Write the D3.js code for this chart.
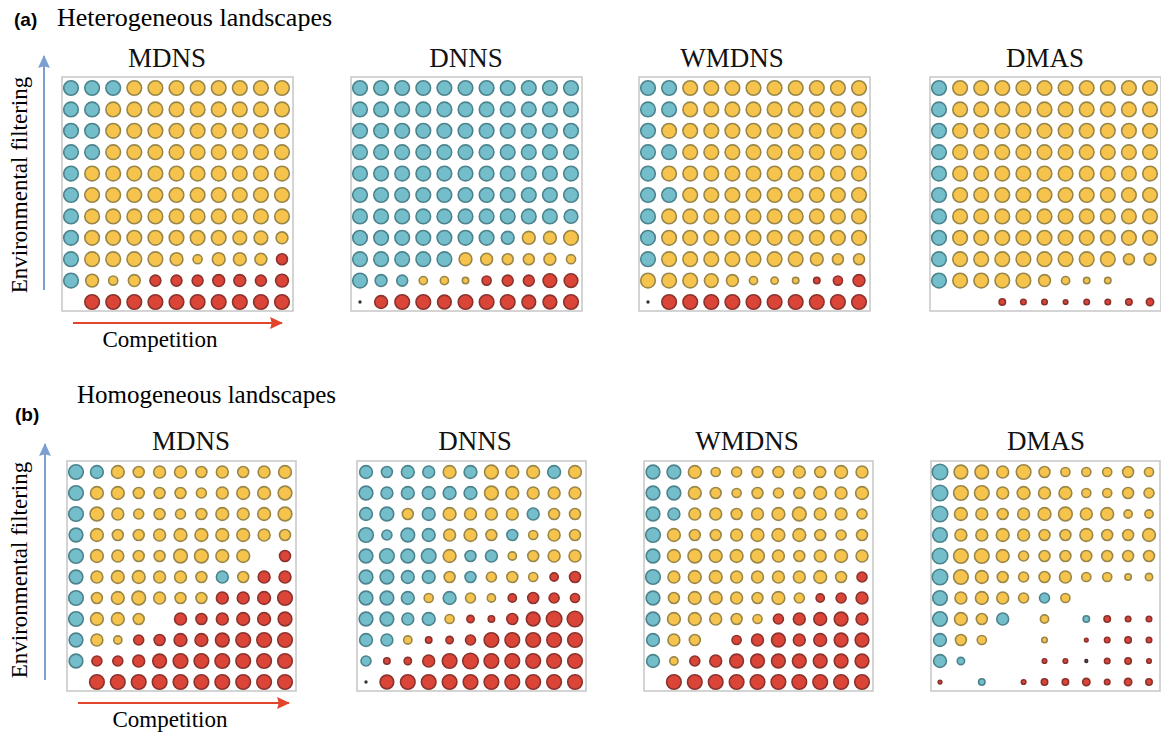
<!DOCTYPE html>
<html>
<head>
<meta charset="utf-8">
<script src="https://cdn.jsdelivr.net/npm/d3@7"></script>
<style>
  body { margin: 0; background: #fff; }
  svg { display: block; }
</style>
</head>
<body>
<script>
// each token: colour letter (B = blue, Y = yellow, R = red) + circle size, "-" = empty cell
// rows go from top (strong filtering) to bottom, columns left to right (competition)

var hetMDNS = [
  'B8 B8 B8 Y8 Y8 Y8 Y8 Y8 Y8 Y8 Y8',
  'B8 B8 Y8 Y8 Y8 Y8 Y8 Y8 Y8 Y8 Y8',
  'B8 B8 Y8 Y8 Y8 Y8 Y8 Y8 Y8 Y8 Y8',
  'B8 B8 Y8 Y8 Y8 Y8 Y8 Y8 Y8 Y8 Y8',
  'B8 Y8 Y8 Y8 Y8 Y8 Y8 Y8 Y8 Y8 Y8',
  'B8 Y8 Y8 Y8 Y8 Y8 Y8 Y8 Y8 Y8 Y8',
  'B8 Y8 Y8 Y8 Y8 Y8 Y8 Y8 Y8 Y8 Y8',
  'B8 Y8 Y8 Y8 Y8 Y8 Y8 Y8 Y7.5 Y7.5 Y6.5',
  'B8 Y8 Y8 Y8 Y8 Y7 Y5 Y7 Y7 Y6.5 R6',
  'B8 Y7 Y5 Y6.5 R6 R6 R6 R6.5 R6.5 R6 R7',
  '- R8 R8 R8 R8 R8 R8 R8 R8 R8 R8'
];
var hetDNNS = [
  'B8 B8 B8 B8 B8 B8 B8 B8 B8 B8 B8',
  'B8 B8 B8 B8 B8 B8 B8 B8 B8 B8 B8',
  'B8 B8 B8 B8 B8 B8 B8 B8 B8 B8 B8',
  'B8 B8 B8 B8 B8 B8 B8 B8 B8 B8 B8',
  'B8 B8 B8 B8 B8 B8 B8 B8 B8 B8 B8',
  'B8 B8 B8 B8 B8 B8 B8 B8 B8 B8 B8',
  'B8 B8 B8 B8 B8 B8 B8 B8 B8 B8 B7.5',
  'B8 B8 B8 B8 B8 B8 B8 B7 Y7 Y7 Y8',
  'B8 B8 B8 B8 B8 Y7 Y6.5 Y6 Y6 Y6.5 Y5',
  'B8 B6.5 B6 Y4.5 Y4.5 Y3.5 R5 R6 R6 R7.5 R7.5',
  'R1 R7 R8 R8 R7.5 R8 R8 R8 R7.5 R7.5 R8'
];
var hetWMDNS = [
  'B8 B8 Y8 Y8 Y8 Y8 Y8 Y8 Y8 Y8 Y8',
  'B8 B8 Y8 Y8 Y8 Y8 Y8 Y8 Y8 Y8 Y8',
  'B8 Y8 Y8 Y8 Y8 Y8 Y8 Y8 Y8 Y8 Y8',
  'B8 B8 Y8 Y8 Y8 Y8 Y8 Y8 Y8 Y8 Y8',
  'B8 Y8 Y8 Y8 Y8 Y8 Y8 Y8 Y8 Y8 Y8',
  'B8 B8 Y8 Y8 Y8 Y8 Y8 Y8 Y8 Y8 Y8',
  'B8 Y8 Y8 Y8 Y8 Y8 Y8 Y8 Y8 Y8 Y8',
  'B8 Y8 Y8 Y8 Y8 Y8 Y8 Y8 Y8 Y8 Y8',
  'B8 Y8 Y8 Y8 Y8 Y8 Y8 Y8 Y7 Y6 Y6',
  'Y8 Y8 Y8 Y7.5 Y6.5 Y4.5 Y4 Y3.5 R3.5 R5 R6.5',
  'R1 R8 R8 R8 R8 R8 R8 R8 R8 R8 R8'
];
var hetDMAS = [
  'B8 Y8 Y8 Y8 Y8 Y8 Y8 Y8 Y8 Y8 Y8',
  'B8 Y8 Y8 Y8 Y8 Y8 Y8 Y8 Y8 Y8 Y8',
  'B8 Y8 Y8 Y8 Y8 Y8 Y8 Y8 Y8 Y8 Y8',
  'B8 Y8 Y8 Y8 Y8 Y8 Y8 Y8 Y8 Y8 Y8',
  'B8 Y8 Y8 Y8 Y8 Y8 Y8 Y8 Y8 Y8 Y8',
  'B8 Y8 Y8 Y8 Y8 Y8 Y8 Y8 Y8 Y8 Y8',
  'B8 Y8 Y8 Y8 Y8 Y8 Y8 Y8 Y8 Y8 Y8',
  'B8 Y8 Y8 Y8 Y8 Y8 Y8 Y8 Y8 Y8 Y8',
  'B8 Y8 Y8 Y8 Y8 Y8 Y8 Y8 Y8 Y6 Y6.5',
  'B8 Y8 Y8 Y8 Y8 Y6.5 Y4.5 Y3.5 Y3.5 - -',
  '- - - R3.5 R3 R3 R2.5 R3 R3 R3.5 R4'
];

var homMDNS = [
  'B8 B7 Y7 Y6 Y6.5 Y6.5 Y6 Y6.5 Y6 Y6.5 Y7',
  'B8 Y7 Y7 Y6 Y6 Y6 Y5.5 Y6.5 Y7 Y7 Y7.5',
  'B8 Y7.5 Y6.5 Y5.5 Y6 Y5.5 Y6 Y7 Y6.5 Y7 Y7.5',
  'B7.5 Y7 Y6 Y6 Y6.5 Y7 Y7 Y7 Y7 Y6.5 Y6',
  'B8 Y7 Y6.5 Y6 Y6 Y7.5 Y7.5 Y7 Y7 - R6',
  'B7.5 Y6.5 Y7 Y7 Y6.5 Y6.5 Y6 B6.5 Y6 R6.5 R6.5',
  'B8 Y6 Y7 Y7.5 Y6.5 Y6 Y6 R6.5 R6.5 R7 R8',
  'B8 Y7 Y7 Y6 - R6.5 R6 R6.5 R7 R7 R7.5',
  'B7.5 Y6.5 Y4.5 R5.5 R6 R7 R7 R7.5 R8 R8 R8',
  'B7.5 R5.5 R5.5 R6.5 R7.5 R8 R8 R8 R8 R8 R8',
  '- R8 R8 R8 R8 R8 R8 R8 R8 R8 R8'
];
var homDNNS = [
  'B7 B6 B7 B6.5 Y7 B7 Y7.5 Y7 Y7 B7 Y7',
  'B7.5 B6.5 B7 B7 B7 B7 Y7.5 Y7 Y6.5 Y6.5 Y6.5',
  'B7 B7.5 Y6 B7 Y7 Y6.5 Y6.5 Y6.5 B6.5 Y6 Y6',
  'B8 B5.5 B7.5 B7 Y6.5 Y7 Y6 B6 Y5 Y6.5 Y6',
  'B7.5 B8 B7.5 B8 Y7 B6 B6.5 Y4.5 Y6 Y6.5 Y6.5',
  'B7.5 B7.5 B7 B7 Y6 B6 Y5.5 Y6 Y5 R4.5 R6',
  'B7.5 B7.5 B7 Y5 B7 Y5.5 Y4.5 R4.5 R6 R5.5 R5',
  'B7.5 B7.5 B6.5 B7 Y5 R4 R3.5 R6 R7.5 R8.5 R8.5',
  'B7 B6.5 Y4.5 R3.5 R4 R5.5 R8 R8 R8 R8 R8',
  'B5.5 R3.5 R4 R6.5 R8 R8.5 R8 R8 R8 R8 R8',
  'R1 R7.5 R8 R8 R8 R8 R8 R8 R8 R8 R8'
];
var homWMDNS = [
  'B7.5 B7.5 Y7 Y5 Y5.5 Y6 Y6 Y6.5 Y6 Y7 Y6.5',
  'B7.5 B7.5 Y7 Y6 Y5 Y6 Y5.5 Y6 Y7 Y6.5 Y7',
  'B7.5 B6.5 Y6.5 Y6.5 Y6 Y6.5 Y7 Y7.5 Y6.5 Y6.5 Y5.5',
  'B8 Y7 Y6 Y6 Y6.5 Y7 Y7 Y7 Y6 Y5.5 Y6',
  'B7.5 Y7 Y7.5 Y7 Y7 Y7.5 Y6.5 Y6 Y6.5 Y7 Y6.5',
  'B8 Y6.5 Y7 Y7 Y6.5 Y6.5 Y6.5 Y6.5 Y7 Y6 R5.5',
  'B7.5 Y6 Y7 Y7 Y6.5 Y6 Y7 Y5.5 R4.5 R5.5 R6.5',
  'B7.5 Y7 Y7 Y6.5 Y6 Y5 R5.5 R6.5 R7 R7.5 R6.5',
  'B7 Y6.5 Y6 - R5 R6.5 R7.5 R6.5 R7 R7.5 R7.5',
  'B7 Y4.5 R5.5 R6.5 R7.5 R7.5 R7.5 R7.5 R7.5 R7.5 R7.5',
  '- R8 R8 R8 R8 R8 R8 R8 R8 R8 R8'
];
var homDMAS = [
  'B8.5 Y7.5 Y7.5 Y6.5 Y8 Y6 Y5 Y5 Y5 Y6 Y5',
  'B8.5 Y8 Y8 Y6.5 Y7 Y6.5 Y7 Y5 Y5 Y6 Y5.5',
  'B8.5 Y7 Y6.5 Y6 Y6.5 Y7 Y7.5 Y6.5 Y7 Y4.5 Y4.5',
  'B8 Y6.5 Y6.5 Y7 Y6.5 Y6 Y6 Y7 Y6 Y6 Y7',
  'B8.5 Y8 Y8 Y7 Y5.5 Y6 Y6 Y6 Y6 Y6 Y6',
  'B8.5 Y8 Y7 Y6 Y5.5 Y6 Y6.5 Y5 Y5 Y3.5 Y4',
  'B8 Y6.5 Y7 Y6.5 Y5.5 B5.5 Y5 - - - -',
  'B8 Y7 Y6 B6.5 - Y4.5 - B3.5 R3.5 R3 R3',
  'B7 Y6 Y5 - - Y3 - R2 R3 R3.5 R3',
  'B7 B4 - - - R2.5 R2.5 R1.5 R3 R3.5 R2.5',
  'R2 - B3.5 - R2.5 R3.5 R3.5 R4 R3 R4 R3.5'
];

var panelNames = ['MDNS', 'DNNS', 'WMDNS', 'DMAS'];
var hetPanels = [hetMDNS, hetDNNS, hetWMDNS, hetDMAS];
var homPanels = [homMDNS, homDNNS, homWMDNS, homDMAS];

var fills = {B: '#74bdca', Y: '#f6c34d', R: '#da4537'};
var strokes = {B: '#4c838c', Y: '#998749', R: '#8a332e'};

var W = 1161, H = 733;
var serif = "'Liberation Serif', 'Times New Roman', serif";
var sans = "'Liberation Sans', Arial, sans-serif";

var svg = d3.select('body').append('svg')
  .attr('width', W)
  .attr('height', H);

svg.append('defs').selectAll('marker')
  .data([{id: 'headBlue', c: '#7c9fd2'}, {id: 'headRed', c: '#e2452b'}])
  .enter().append('marker')
  .attr('id', function(d) { return d.id; })
  .attr('viewBox', '0 0 12 12')
  .attr('refX', 11).attr('refY', 6)
  .attr('markerWidth', 13).attr('markerHeight', 13)
  .attr('markerUnits', 'userSpaceOnUse')
  .attr('orient', 'auto')
  .append('path')
  .attr('d', 'M0,0.5 L12,6 L0,11.5 L1.5,6 Z')
  .attr('fill', function(d) { return d.c; });

var rScale = d3.scaleLinear().domain([0, 8]).range([0, 7.3]);

var parseRows = function(rows) {
  var cells = [];
  rows.forEach(function(row, ri) {
    row.split(' ').forEach(function(tok, ci) {
      if (tok === '-') return;
      cells.push({row: ri, col: ci, c: tok[0], v: +tok.slice(1)});
    });
  });
  return cells;
};

var drawPanel = function(rows, name, x0, y0, w, h, titleX, titleY) {
  var g = svg.append('g');
  var x = d3.scalePoint().domain(d3.range(11)).range([x0 + 9, x0 + w - 11]);
  var y = d3.scalePoint().domain(d3.range(11)).range([y0 + 11, y0 + h - 9]);

  g.append('rect')
    .attr('x', x0).attr('y', y0)
    .attr('width', w).attr('height', h)
    .attr('fill', 'none')
    .attr('stroke', '#c6c6c6')
    .attr('stroke-width', 1.5);

  g.selectAll('circle')
    .data(parseRows(rows))
    .enter().append('circle')
    .attr('cx', function(d) { return x(d.col); })
    .attr('cy', function(d) { return y(d.row); })
    .attr('r', function(d) { return rScale(d.v); })
    .attr('fill', function(d) { return fills[d.c]; })
    .attr('stroke', function(d) { return d.v < 2 ? '#333' : strokes[d.c]; })
    .attr('stroke-width', 1.6);

  g.append('text')
    .attr('x', titleX).attr('y', titleY)
    .attr('text-anchor', 'middle')
    .attr('font-family', serif)
    .attr('font-size', 27)
    .attr('fill', '#111')
    .text(name);
};

var hetX = [62, 351, 639, 930];
var homX = [67, 357, 644, 931];
var hetTitleX = [167, 466, 732, 1045];
var homTitleX = [191, 475, 747, 1046];

hetPanels.forEach(function(rows, i) {
  drawPanel(rows, panelNames[i], hetX[i], 77, 231, 234, hetTitleX[i], 67);
});
homPanels.forEach(function(rows, i) {
  drawPanel(rows, panelNames[i], homX[i], 461, 229, 230, homTitleX[i], 450);
});

// section labels
svg.append('text')
  .attr('x', 14).attr('y', 26)
  .attr('font-family', sans)
  .attr('font-weight', 'bold')
  .attr('font-size', 19)
  .text('(a)');
svg.append('text')
  .attr('x', 57).attr('y', 26)
  .attr('font-family', serif)
  .attr('font-size', 26)
  .text('Heterogeneous landscapes');
svg.append('text')
  .attr('x', 15).attr('y', 421)
  .attr('font-family', sans)
  .attr('font-weight', 'bold')
  .attr('font-size', 19)
  .text('(b)');
svg.append('text')
  .attr('x', 77).attr('y', 403)
  .attr('font-family', serif)
  .attr('font-size', 25)
  .text('Homogeneous landscapes');

// axis arrows and labels, drawn next to the MDNS panels
var axes = [
  {vx: 44, vy1: 290, vy2: 56, ly: 185, hx1: 73, hx2: 282, hy: 323, cx: 160, cy: 347},
  {vx: 45, vy1: 680, vy2: 444, ly: 570, hx1: 78, hx2: 289, hy: 703, cx: 170, cy: 727}
];
axes.forEach(function(a) {
  svg.append('line')
    .attr('x1', a.vx).attr('y1', a.vy1)
    .attr('x2', a.vx).attr('y2', a.vy2)
    .attr('stroke', '#7c9fd2').attr('stroke-width', 2)
    .attr('marker-end', 'url(#headBlue)');
  svg.append('line')
    .attr('x1', a.hx1).attr('y1', a.hy)
    .attr('x2', a.hx2).attr('y2', a.hy)
    .attr('stroke', '#e2452b').attr('stroke-width', 2.2)
    .attr('marker-end', 'url(#headRed)');
  svg.append('text')
    .attr('transform', 'translate(27,' + a.ly + ') rotate(-90)')
    .attr('text-anchor', 'middle')
    .attr('font-family', serif)
    .attr('font-size', 23)
    .text('Environmental filtering');
  svg.append('text')
    .attr('x', a.cx).attr('y', a.cy)
    .attr('text-anchor', 'middle')
    .attr('font-family', serif)
    .attr('font-size', 23)
    .text('Competition');
});
</script>
</body>
</html>
